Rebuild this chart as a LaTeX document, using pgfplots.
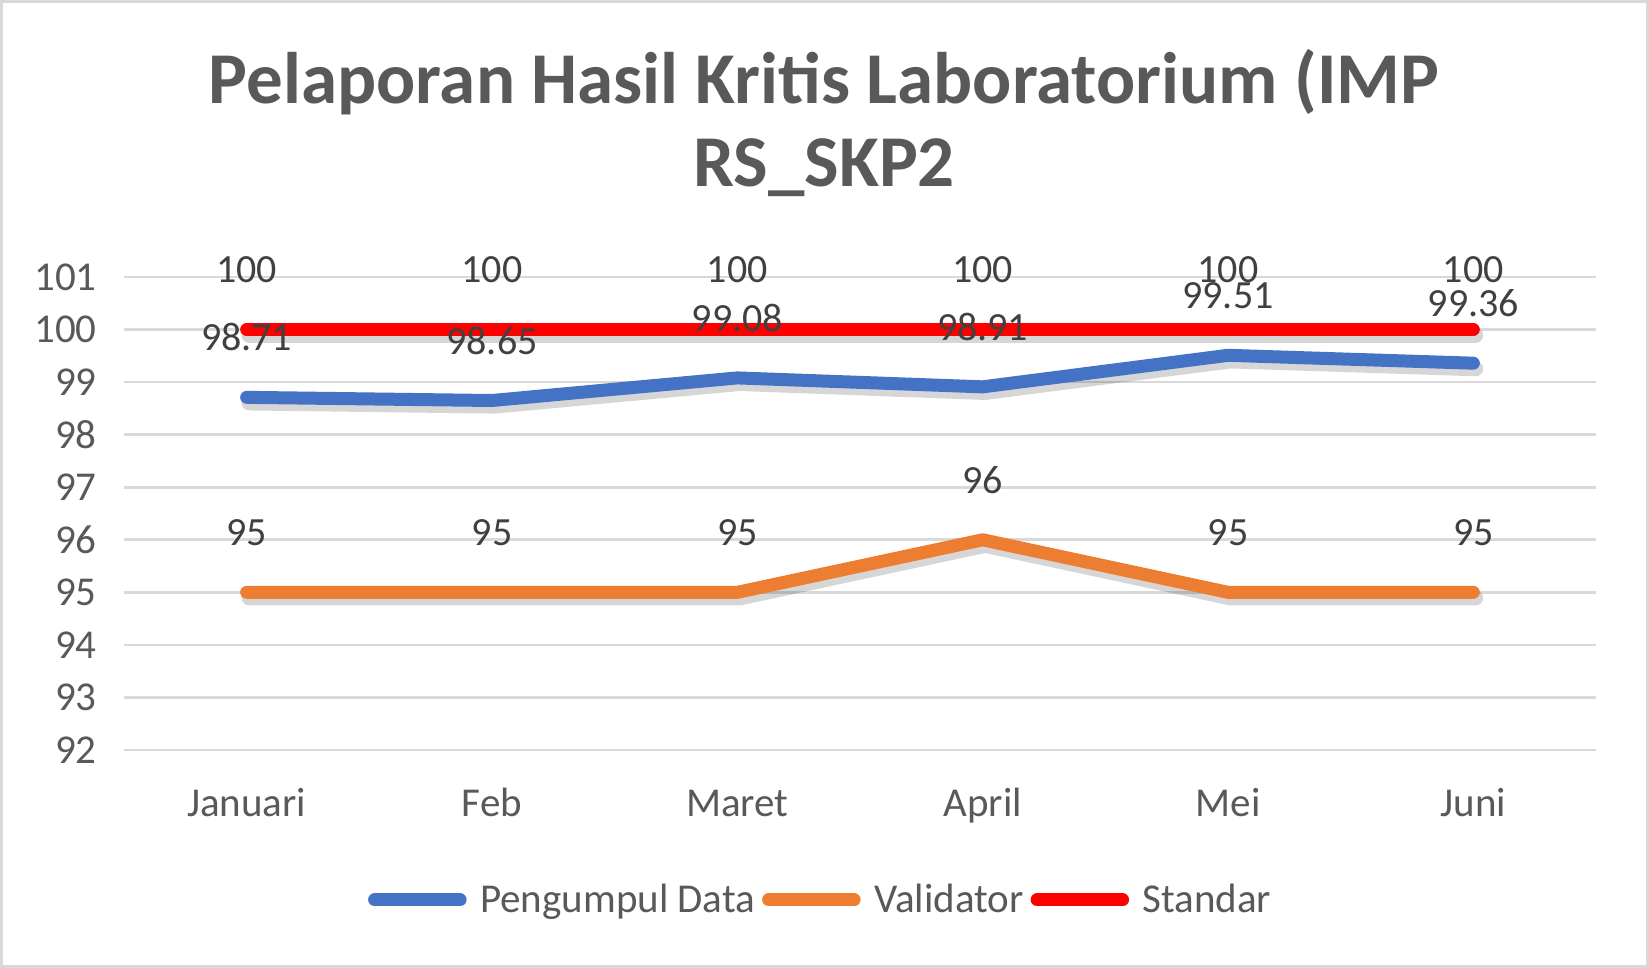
\documentclass[border=0pt]{standalone}
\usepackage{pgfplots}
\usepackage{pgfplotstable}
\pgfplotsset{compat=1.18}
\usepackage{fontspec}
\setmainfont{Carlito}
\definecolor{cblue}{HTML}{4472C4}
\definecolor{corange}{HTML}{ED7D31}
\definecolor{cred}{HTML}{FF0000}
\definecolor{cgray}{HTML}{595959}
\definecolor{clabel}{HTML}{404040}
\definecolor{cgrid}{HTML}{D9D9D9}

\pgfplotstableread{
x y label
0 98.71 98.71
1 98.65 98.65
2 99.08 99.08
3 98.91 98.91
4 99.51 99.51
5 99.36 99.36
}\pengumpul
\pgfplotstableread{
x y label
0 95 95
1 95 95
2 95 95
3 96 96
4 95 95
5 95 95
}\validator
\pgfplotstableread{
x y label
0 100 100
1 100 100
2 100 100
3 100 100
4 100 100
5 100 100
}\standar

\begin{document}
\begin{tikzpicture}[x=1pt,y=1pt]
\useasboundingbox (0,0) rectangle (824.5,484);
\draw[color=cgrid, line width=1.5pt] (0.75,0.75) rectangle (823.75,483.25);
\node[font=\fontsize{36.5}{40}\selectfont\bfseries, text=cgray] at (412,443) {Pelaporan Hasil Kritis Laboratorium (IMP};
\node[font=\fontsize{36.5}{40}\selectfont\bfseries, text=cgray] at (412,400) {RS\_SKP2};
\begin{axis}[
  at={(62pt,109pt)}, anchor=south west,
  scale only axis, width=736pt, height=236.5pt,
  xmin=-0.5, xmax=5.5, ymin=92, ymax=101,
  ytick={92,93,...,101},
  xtick={0,...,5},
  xticklabels={Januari,Feb,Maret,April,Mei,Juni},
  ymajorgrids, grid style={cgrid, line width=1.3pt},
  axis line style={draw=none},
  major tick length=0pt,
  clip=false,
  /pgf/number format/assume math mode=true,
  tick label style={font=\fontsize{20.5}{24}\selectfont, text=cgray},
  yticklabel style={anchor=east, inner sep=0pt, xshift=-13.5pt},
  xticklabel style={anchor=base, inner sep=0pt, yshift=-33.5pt},
  legend style={at={(0.474,-0.317)}, anchor=center, draw=none, fill=none,
    legend columns=3, font=\fontsize{20.5}{24}\selectfont, text=cgray,
    /tikz/every even column/.append style={column sep=1.5pt}},
  legend image code/.code={\path[draw=none] (0pt,0pt) -- (54pt,0pt);\draw[line width=6.5pt, line cap=round] (3.25pt,0pt) -- (46pt,0pt);},
  point meta=explicit symbolic,
  nodes near coords,
  every node near coord/.append style={anchor=center, yshift=30pt, font=\fontsize{20}{24}\selectfont, text=clabel, inner sep=0pt},
  shadowline/.style={preaction={draw=black, opacity=0.16, line width=7.5pt, transform canvas={xshift=1.2pt, yshift=-2.8pt}}},
]
\addlegendimage{cblue, line width=6.5pt, line cap=round}
\addlegendentry{Pengumpul Data}
\addlegendimage{corange, line width=6.5pt, line cap=round}
\addlegendentry{Validator}
\addlegendimage{cred, line width=6.5pt, line cap=round}
\addlegendentry{Standar}

\addplot[forget plot, cred, line width=6.5pt, line cap=round, line join=round, shadowline] table[x=x, y=y, meta=label] {\standar};
\addplot[forget plot, corange, line width=6.5pt, line cap=round, line join=round, shadowline] table[x=x, y=y, meta=label] {\validator};
\addplot[forget plot, cblue, line width=6.5pt, line cap=round, line join=round, shadowline] table[x=x, y=y, meta=label] {\pengumpul};
\end{axis}
\end{tikzpicture}
\end{document}
